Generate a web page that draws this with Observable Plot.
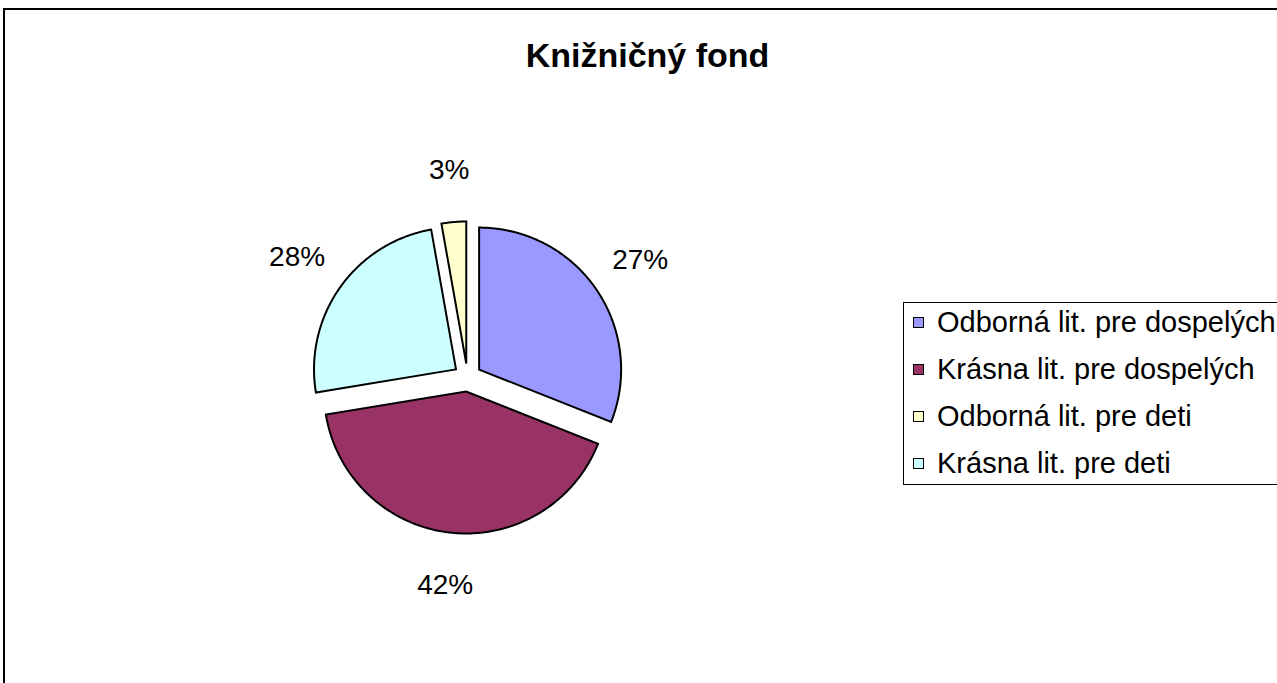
<!DOCTYPE html>
<html>
<head>
<meta charset="utf-8">
<script src="https://cdn.jsdelivr.net/npm/d3@7"></script>
<script src="https://cdn.jsdelivr.net/npm/@observablehq/plot@0.6"></script>
<style>
  body { margin: 0; background: #fff; font-family: "Liberation Sans", Arial, sans-serif; }
  #wrap { position: relative; width: 1277px; height: 683px; overflow: hidden; background: #fff; }
  #frame { position: absolute; left: 3px; top: 8px; width: 2000px; height: 2000px;
           border-left: 2px solid #000; border-top: 2px solid #000; pointer-events: none; z-index: 5; }
  #title { height: 100px; box-sizing: border-box; padding-top: 35px; padding-left: 18px;
           text-align: center; font-weight: bold; font-size: 34px; line-height: 40px; color: #000; }
  #chart svg { display: block; }
  #legend { position: absolute; left: 903px; top: 302px; width: 400px; height: 183px;
            box-sizing: border-box; border: 1px solid #000; background: #fff; }
  #legend .rows { position: relative; top: -4px; }
  #legend .row { height: 47px; display: flex; align-items: center; font-size: 29px; color: #000; white-space: nowrap; }
  #legend .sw { width: 9px; height: 9px; border: 1.5px solid #000; margin-left: 9px; margin-right: 13px; flex: none; }
</style>
</head>
<body>
<div id="wrap">
  <div id="frame"></div>
  <div id="title">Knižničný fond</div>
  <div id="chart"></div>
  <div id="legend"><div class="rows"></div></div>
</div>
<script>
// Legend categories (legend order) and their colours
const categories = ["Odborná lit. pre dospelých", "Krásna lit. pre dospelých", "Odborná lit. pre deti", "Krásna lit. pre deti"];
const categoryColors = ["#9999FF", "#993366", "#FFFFCC", "#CCFFFF"];

// Slices as drawn clockwise from 12 o'clock (shares)
const sliceCategory = ["Odborná lit. pre dospelých", "Krásna lit. pre dospelých", "Krásna lit. pre deti", "Odborná lit. pre deti"];
const sliceShare = [31.0, 41.4, 24.8, 2.8];
const sliceLabel = ["27%", "42%", "28%", "3%"];

// Layout (pixels)
const W = 1277, H = 583;
const cx = 467, cy = 277, R = 142;
const explode = 0.099;   // explosion distance, in radii
const labelR = 1.47;     // label distance, in radii

const slices = sliceCategory.map((key, i) => ({key, share: sliceShare[i], label: sliceLabel[i]}));
const arcs = d3.pie().sort(null).value(d => d.share).startAngle(0).endAngle(2 * Math.PI)(slices);

const polyPoints = [];
const labelPoints = [];
for (const a of arcs) {
  const mid = (a.startAngle + a.endAngle) / 2;
  const ox = explode * Math.sin(mid), oy = explode * Math.cos(mid);
  const key = a.data.key;
  polyPoints.push({key, x: ox, y: oy});
  const n = Math.max(4, Math.ceil((a.endAngle - a.startAngle) / (Math.PI / 360)));
  for (let k = 0; k <= n; k++) {
    const t = a.startAngle + (a.endAngle - a.startAngle) * k / n;
    polyPoints.push({key, x: ox + Math.sin(t), y: oy + Math.cos(t)});
  }
  labelPoints.push({x: labelR * Math.sin(mid), y: labelR * Math.cos(mid), text: a.data.label});
}

const chart = Plot.plot({
  width: W, height: H, margin: 0,
  style: {fontFamily: "'Liberation Sans', Arial, sans-serif", background: "transparent", overflow: "visible"},
  x: {domain: [-cx / R, (W - cx) / R], axis: null},
  y: {domain: [-(H - cy) / R, cy / R], axis: null},
  color: {domain: categories, range: categoryColors},
  marks: [
    Plot.line(polyPoints, {x: "x", y: "y", z: "key", fill: "key", stroke: "#000", strokeWidth: 2,
                           curve: "linear-closed", strokeLinejoin: "miter", strokeMiterlimit: 3}),
    Plot.text(labelPoints, {x: "x", y: "y", text: "text", fontSize: 28, fill: "#000"})
  ]
});
document.getElementById("chart").appendChild(chart);

const color = chart.scale("color");
const rows = document.querySelector("#legend .rows");
for (const c of categories) {
  const row = document.createElement("div");
  row.className = "row";
  const sw = document.createElement("span");
  sw.className = "sw";
  sw.style.background = color.apply(c);
  const tx = document.createElement("span");
  tx.textContent = c;
  row.appendChild(sw);
  row.appendChild(tx);
  rows.appendChild(row);
}
</script>
</body>
</html>
